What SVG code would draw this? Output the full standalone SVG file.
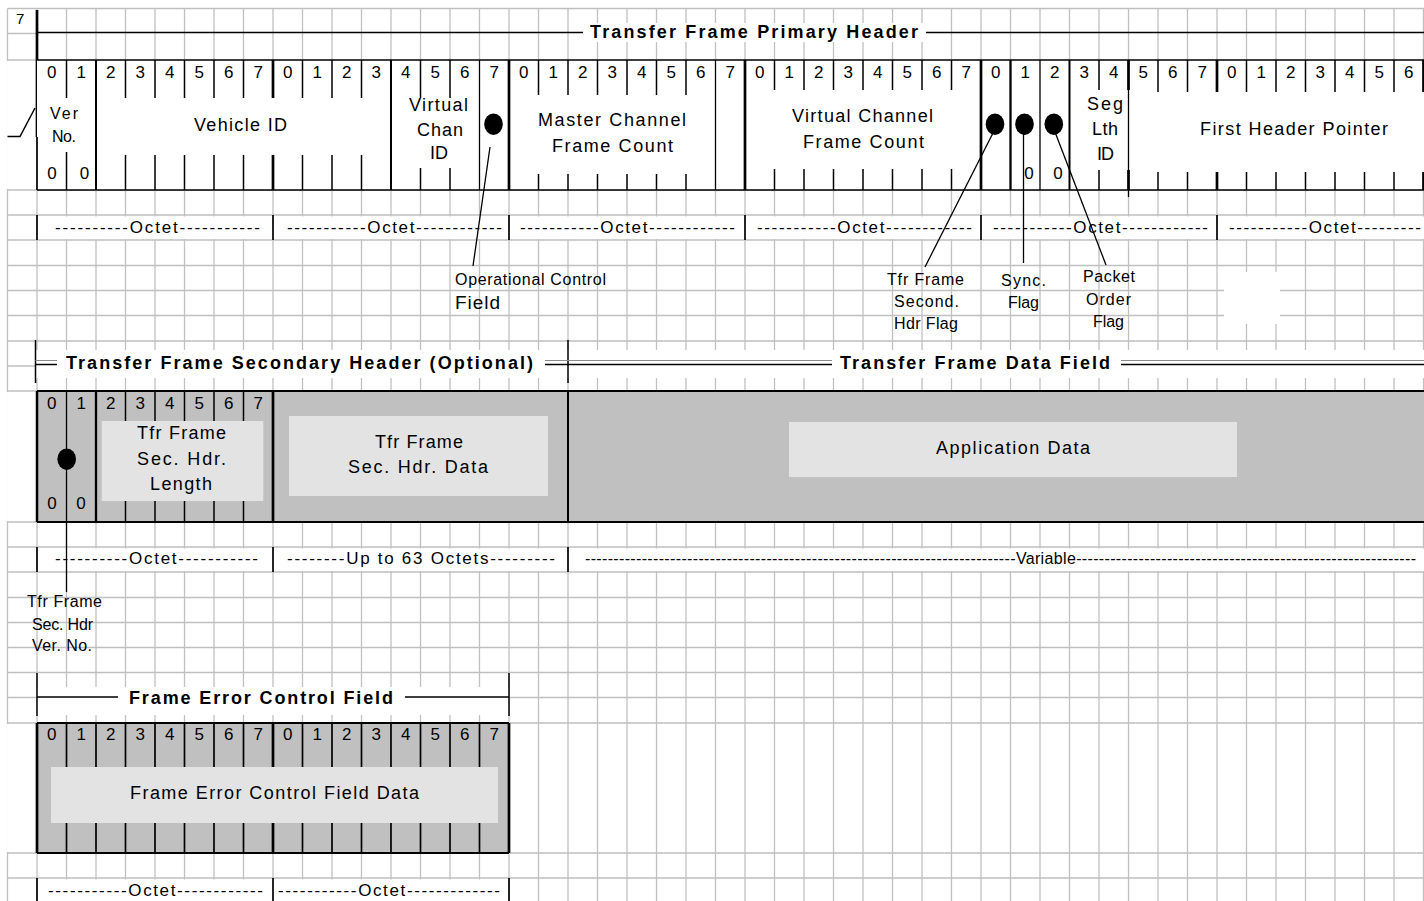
<svg xmlns="http://www.w3.org/2000/svg" width="1424" height="901" viewBox="0 0 1424 901">
<style>
.grid{stroke:#c0c0c0;stroke-width:1.3;fill:none}
.bk{stroke:#000;fill:none}
.t{font-family:"Liberation Sans",Arial,sans-serif;fill:#000}
.b{font-size:17px;text-anchor:middle}
.lbl{font-size:18px}
.sm{font-size:16px}
.ttl{font-size:18px;font-weight:bold}
.oct{font-size:17px}
.wh{fill:#fff;stroke:none}
.gr{fill:#c0c0c0;stroke:none}
.lt{fill:#e3e3e3;stroke:none}
.dot{fill:#000}
</style>
<rect x="0" y="0" width="1424" height="901" fill="#fff"/>
<g id="grid">
<path class="grid" d="M7.5 8.5V901M37 8.5V901M66.5 8.5V901M96 8.5V901M125.5 8.5V901M155 8.5V901M184.5 8.5V901M214 8.5V901M243.5 8.5V901M273 8.5V901M302.5 8.5V901M332 8.5V901M361.5 8.5V901M391 8.5V901M420.5 8.5V901M450 8.5V901M479.5 8.5V901M509 8.5V901M538.5 8.5V901M568 8.5V901M597.5 8.5V901M627 8.5V901M656.5 8.5V901M686 8.5V901M715.5 8.5V901M745 8.5V901M774.5 8.5V901M804 8.5V901M833.5 8.5V901M863 8.5V901M892.5 8.5V901M922 8.5V901M951.5 8.5V901M981 8.5V901M1010.5 8.5V901M1040 8.5V901M1069.5 8.5V901M1099 8.5V901M1128.5 8.5V901M1158 8.5V901M1187.5 8.5V901M1217 8.5V901M1246.5 8.5V901M1276 8.5V901M1305.5 8.5V901M1335 8.5V901M1364.5 8.5V901M1394 8.5V901M1423.5 8.5V901"/>
<path class="grid" d="M7.5 8.5H1424M7.5 33.5H37M7.5 60H37M7.5 190H1424M7.5 215H1424M7.5 240H1424M7.5 265.5H1424M7.5 290.5H1424M7.5 315.5H1424M7.5 341H1424M7.5 366H1424M7.5 391H1424M7.5 522H1424M7.5 547H1424M7.5 572H1424M7.5 597.5H1424M7.5 622.5H1424M7.5 647.5H1424M7.5 672.5H1424M7.5 697.5H1424M7.5 723H1424M7.5 853H1424M7.5 878H1424"/>
<rect class="wh" x="6.5" y="61" width="29.5" height="128"/>
<rect class="wh" x="6.5" y="392" width="29.5" height="129"/>
<rect class="wh" x="6.5" y="724" width="29.5" height="128"/>
<rect class="wh" x="37" y="216.5" width="1387" height="22.5"/>
<rect class="wh" x="37" y="548.5" width="1387" height="22.5"/>
<rect class="wh" x="37" y="879.5" width="472" height="21.5"/>
<rect class="wh" x="36" y="350" width="1388" height="28"/>
<rect class="wh" x="37" y="687" width="472" height="28"/>
<rect class="wh" x="583" y="23" width="343" height="19"/>
<rect class="wh" x="1224" y="272" width="56" height="52"/>
</g>
<g id="top-corner">
<text class="t" x="16" y="24" font-size="15">7</text>
<path class="bk" stroke-width="2.7" d="M37 10V137"/>
<polyline class="bk" stroke-width="1.5" points="7.5,136.5 20,136.5 35,108"/>
</g>
<g id="primary-header">
<path class="bk" stroke-width="1.3" d="M37 32.5H583M926 32.5H1424"/>
<text class="t ttl" x="590" y="37.5" textLength="328" lengthAdjust="spacing">Transfer Frame Primary Header</text>
<rect class="wh" x="37" y="60" width="1387" height="130"/>
<path class="bk" stroke-width="1.7" d="M37 60H1424M37 190H1424M37 137V190"/>
<path class="bk" stroke-width="1.5" d="M66.5 60V98M66.5 152V190M125.5 60V98M125.5 155V190M155 60V98M155 155V190M184.5 60V98M184.5 155V190M214 60V98M214 155V190M243.5 60V98M243.5 155V190M302.5 60V98M302.5 155V190M332 60V98M332 155V190M361.5 60V98M361.5 155V190M420.5 60V98M420.5 168V190M450 60V98M450 168V190M538.5 60V95M538.5 174V190M568 60V95M568 174V190M597.5 60V95M597.5 174V190M627 60V95M627 174V190M656.5 60V95M656.5 174V190M686 60V95M686 174V190M774.5 60V90M774.5 169V190M804 60V90M804 169V190M833.5 60V90M833.5 169V190M863 60V90M863 169V190M892.5 60V90M892.5 169V190M922 60V90M922 169V190M951.5 60V90M951.5 169V190M1099 60V90M1099 170V190M1158 60V92M1158 172V190M1187.5 60V92M1187.5 172V190M1246.5 60V92M1246.5 172V190M1276 60V92M1276 172V190M1305.5 60V92M1305.5 172V190M1335 60V92M1335 172V190M1364.5 60V92M1364.5 172V190M1394 60V92M1394 172V190"/>
<path class="bk" stroke-width="2.7" d="M273 60V98M273 155V190M1128.5 60V90M1128.5 170V190M1217 60V92M1217 172V190M1423.5 60V92M1423.5 172V190M509 60V190M745 60V190M981 60V190"/>
<path class="bk" stroke-width="2" d="M96 60V190M391 60V190M1069.5 60V190"/>
<path class="bk" stroke-width="2.3" d="M1010.5 60V190"/>
<path class="bk" stroke-width="1.3" d="M479.5 60V190M715.5 60V190M1040 60V190M1128.5 60V197"/>
<g class="t b">
<text x="51.75" y="78">0</text><text x="81.25" y="78">1</text><text x="110.75" y="78">2</text><text x="140.25" y="78">3</text><text x="169.75" y="78">4</text><text x="199.25" y="78">5</text><text x="228.75" y="78">6</text><text x="258.25" y="78">7</text>
<text x="287.75" y="78">0</text><text x="317.25" y="78">1</text><text x="346.75" y="78">2</text><text x="376.25" y="78">3</text><text x="405.75" y="78">4</text><text x="435.25" y="78">5</text><text x="464.75" y="78">6</text><text x="494.25" y="78">7</text>
<text x="523.75" y="78">0</text><text x="553.25" y="78">1</text><text x="582.75" y="78">2</text><text x="612.25" y="78">3</text><text x="641.75" y="78">4</text><text x="671.25" y="78">5</text><text x="700.75" y="78">6</text><text x="730.25" y="78">7</text>
<text x="759.75" y="78">0</text><text x="789.25" y="78">1</text><text x="818.75" y="78">2</text><text x="848.25" y="78">3</text><text x="877.75" y="78">4</text><text x="907.25" y="78">5</text><text x="936.75" y="78">6</text><text x="966.25" y="78">7</text>
<text x="995.75" y="78">0</text><text x="1025.25" y="78">1</text><text x="1054.75" y="78">2</text><text x="1084.25" y="78">3</text><text x="1113.75" y="78">4</text><text x="1143.25" y="78">5</text><text x="1172.75" y="78">6</text><text x="1202.25" y="78">7</text>
<text x="1231.75" y="78">0</text><text x="1261.25" y="78">1</text><text x="1290.75" y="78">2</text><text x="1320.25" y="78">3</text><text x="1349.75" y="78">4</text><text x="1379.25" y="78">5</text><text x="1408.75" y="78">6</text>
<text x="52" y="179">0</text><text x="84.5" y="179">0</text><text x="1029" y="179">0</text><text x="1058" y="179">0</text>
</g>
<text class="t sm" x="50" y="119" textLength="28" lengthAdjust="spacing">Ver</text>
<text class="t sm" x="52" y="142" textLength="24" lengthAdjust="spacing">No.</text>
<text class="t lbl" x="194" y="131" textLength="93" lengthAdjust="spacing">Vehicle ID</text>
<text class="t lbl" x="409" y="111" textLength="59" lengthAdjust="spacing">Virtual</text>
<text class="t lbl" x="417" y="136" textLength="46" lengthAdjust="spacing">Chan</text>
<text class="t lbl" x="430" y="159" textLength="18" lengthAdjust="spacing">ID</text>
<text class="t lbl" x="538" y="126" textLength="148" lengthAdjust="spacing">Master Channel</text>
<text class="t lbl" x="552" y="152" textLength="121" lengthAdjust="spacing">Frame Count</text>
<text class="t lbl" x="792" y="122" textLength="141" lengthAdjust="spacing">Virtual Channel</text>
<text class="t lbl" x="803" y="148" textLength="121" lengthAdjust="spacing">Frame Count</text>
<text class="t lbl" x="1087" y="110" textLength="36" lengthAdjust="spacing">Seg</text>
<text class="t lbl" x="1092" y="135" textLength="26" lengthAdjust="spacing">Lth</text>
<text class="t lbl" x="1097" y="160" textLength="17" lengthAdjust="spacing">ID</text>
<text class="t lbl" x="1200" y="135" textLength="188" lengthAdjust="spacing">First Header Pointer</text>
<ellipse class="dot" cx="493.5" cy="124.2" rx="9.3" ry="10.8"/>
<ellipse class="dot" cx="995" cy="124.2" rx="9.3" ry="10.8"/>
<ellipse class="dot" cx="1024.5" cy="124.2" rx="9.3" ry="10.8"/>
<ellipse class="dot" cx="1053.8" cy="124.2" rx="9.3" ry="10.8"/>
</g>
<g id="primary-octets">
<path class="bk" stroke-width="1.7" d="M37 215V240M273 215V240M509 215V240M745 215V240M981 215V240M1217 215V240"/>
<g class="t oct">
<text x="55" y="233" textLength="205" lengthAdjust="spacing">----------Octet-----------</text>
<text x="287" y="233" textLength="215" lengthAdjust="spacing">-----------Octet------------</text>
<text x="520" y="233" textLength="215" lengthAdjust="spacing">-----------Octet------------</text>
<text x="757" y="233" textLength="215" lengthAdjust="spacing">-----------Octet------------</text>
<text x="993" y="233" textLength="215" lengthAdjust="spacing">-----------Octet------------</text>
<text x="1229" y="233" textLength="192" lengthAdjust="spacing">-----------Octet---------</text>
</g>
</g>
<g id="flag-labels">
<text class="t sm" x="455" y="285" textLength="151" lengthAdjust="spacing">Operational Control</text>
<text class="t" x="455" y="309" font-size="19" textLength="45" lengthAdjust="spacing">Field</text>
<text class="t sm" x="887" y="285" textLength="77" lengthAdjust="spacing">Tfr Frame</text>
<text class="t sm" x="894" y="307" textLength="65" lengthAdjust="spacing">Second.</text>
<text class="t sm" x="894" y="329" textLength="64" lengthAdjust="spacing">Hdr Flag</text>
<text class="t sm" x="1001" y="286" textLength="45" lengthAdjust="spacing">Sync.</text>
<text class="t sm" x="1008" y="307.5" textLength="31" lengthAdjust="spacing">Flag</text>
<text class="t sm" x="1083" y="282" textLength="52" lengthAdjust="spacing">Packet</text>
<text class="t sm" x="1086" y="304.5" textLength="45" lengthAdjust="spacing">Order</text>
<text class="t sm" x="1093" y="326.5" textLength="31" lengthAdjust="spacing">Flag</text>
</g>
<g id="secondary-header">
<path class="bk" stroke-width="1.5" d="M35.5 340V383M568 340V383"/>
<path d="M35.5 360.5H57M545 360.5H832M1121 360.5H1424" stroke="#8a8a8a" stroke-width="1.2" fill="none"/>
<path class="bk" stroke-width="1.3" d="M35.5 364.5H57M545 364.5H832M1121 364.5H1424"/>
<text class="t ttl" x="66" y="369" textLength="467" lengthAdjust="spacing">Transfer Frame Secondary Header (Optional)</text>
<text class="t ttl" x="840" y="369" textLength="270" lengthAdjust="spacing">Transfer Frame Data Field</text>
<rect class="gr" x="37" y="391" width="1387" height="131"/>
<path class="bk" stroke-width="2" d="M37 391H1424M37 522H1424M568 391V522"/>
<path class="bk" stroke-width="2.5" d="M37 391V522"/>
<path class="bk" stroke-width="1.5" d="M125.5 391V522M155 391V522M184.5 391V522M214 391V522M243.5 391V522"/>
<path class="bk" stroke-width="2.3" d="M96 391V522"/>
<path class="bk" stroke-width="2.7" d="M273 391V522"/>
<rect class="lt" x="101.7" y="421" width="161.6" height="80"/>
<rect class="lt" x="289" y="416" width="259" height="80"/>
<rect class="lt" x="789" y="422" width="448" height="55"/>
<g class="t b">
<text x="51.75" y="409">0</text><text x="81.25" y="409">1</text><text x="110.75" y="409">2</text><text x="140.25" y="409">3</text><text x="169.75" y="409">4</text><text x="199.25" y="409">5</text><text x="228.75" y="409">6</text><text x="258.25" y="409">7</text>
<text x="52" y="509">0</text><text x="81" y="509">0</text>
</g>
<text class="t lbl" x="137" y="439" textLength="89" lengthAdjust="spacing">Tfr Frame</text>
<text class="t lbl" x="137" y="464.5" textLength="89" lengthAdjust="spacing">Sec. Hdr.</text>
<text class="t lbl" x="150" y="490" textLength="62" lengthAdjust="spacing">Length</text>
<text class="t lbl" x="375" y="448" textLength="88" lengthAdjust="spacing">Tfr Frame</text>
<text class="t lbl" x="348" y="473" textLength="140" lengthAdjust="spacing">Sec. Hdr. Data</text>
<text class="t lbl" x="936" y="453.5" textLength="154" lengthAdjust="spacing">Application Data</text>
<ellipse class="dot" cx="66.7" cy="459.2" rx="9.3" ry="10.8"/>
</g>
<g id="secondary-octets">
<path class="bk" stroke-width="1.7" d="M37 547V572M273 547V572M568 547V572"/>
<g class="t oct">
<text x="55" y="564" textLength="203" lengthAdjust="spacing">----------Octet-----------</text>
<text x="287" y="564" textLength="268" lengthAdjust="spacing">--------Up to 63 Octets---------</text>
<text x="585" y="564" font-size="16" textLength="831" lengthAdjust="spacing">----------------------------------------------------------------------------Variable------------------------------------------------------------</text>
</g>
<text class="t sm" x="27" y="607" textLength="75" lengthAdjust="spacing">Tfr Frame</text>
<text class="t sm" x="32" y="630" textLength="61" lengthAdjust="spacing">Sec. Hdr</text>
<text class="t sm" x="32" y="651" textLength="60" lengthAdjust="spacing">Ver. No.</text>
</g>
<g id="fecf">
<path class="bk" stroke-width="1.5" d="M37 673V716M509 673V716"/>
<path class="bk" stroke-width="1.3" d="M37 697H118M405 697H509"/>
<text class="t ttl" x="129" y="704" textLength="264" lengthAdjust="spacing">Frame Error Control Field</text>
<rect class="gr" x="37" y="723" width="472" height="130"/>
<path class="bk" stroke-width="2.2" d="M37 723H509M37 853H509"/>
<path class="bk" stroke-width="2.7" d="M37 723V853M509 723V853M273 723V853"/>
<path class="bk" stroke-width="1.7" d="M66.5 723V853M96 723V853M125.5 723V853M155 723V853M184.5 723V853M214 723V853M243.5 723V853M302.5 723V853M332 723V853M361.5 723V853M391 723V853M420.5 723V853M450 723V853M479.5 723V853"/>
<rect class="lt" x="51" y="767" width="447" height="56"/>
<g class="t b">
<text x="51.75" y="740">0</text><text x="81.25" y="740">1</text><text x="110.75" y="740">2</text><text x="140.25" y="740">3</text><text x="169.75" y="740">4</text><text x="199.25" y="740">5</text><text x="228.75" y="740">6</text><text x="258.25" y="740">7</text>
<text x="287.75" y="740">0</text><text x="317.25" y="740">1</text><text x="346.75" y="740">2</text><text x="376.25" y="740">3</text><text x="405.75" y="740">4</text><text x="435.25" y="740">5</text><text x="464.75" y="740">6</text><text x="494.25" y="740">7</text>
</g>
<text class="t lbl" x="130" y="799" textLength="289" lengthAdjust="spacing">Frame Error Control Field Data</text>
<path class="bk" stroke-width="1.7" d="M37 878V901M273 878V901M509 878V901"/>
<g class="t oct">
<text x="48" y="896" textLength="215" lengthAdjust="spacing">-----------Octet------------</text>
<text x="278" y="896" textLength="222" lengthAdjust="spacing">-----------Octet-------------</text>
</g>
</g>
<g id="connectors" class="bk" stroke-width="1.3">
<line x1="490" y1="147" x2="473" y2="266"/>
<line x1="993.5" y1="132" x2="925" y2="267"/>
<line x1="1023.5" y1="128" x2="1023.5" y2="263"/>
<line x1="1055" y1="132" x2="1106" y2="265"/>
<line x1="66.5" y1="391" x2="66.5" y2="592"/>
</g>
</svg>
